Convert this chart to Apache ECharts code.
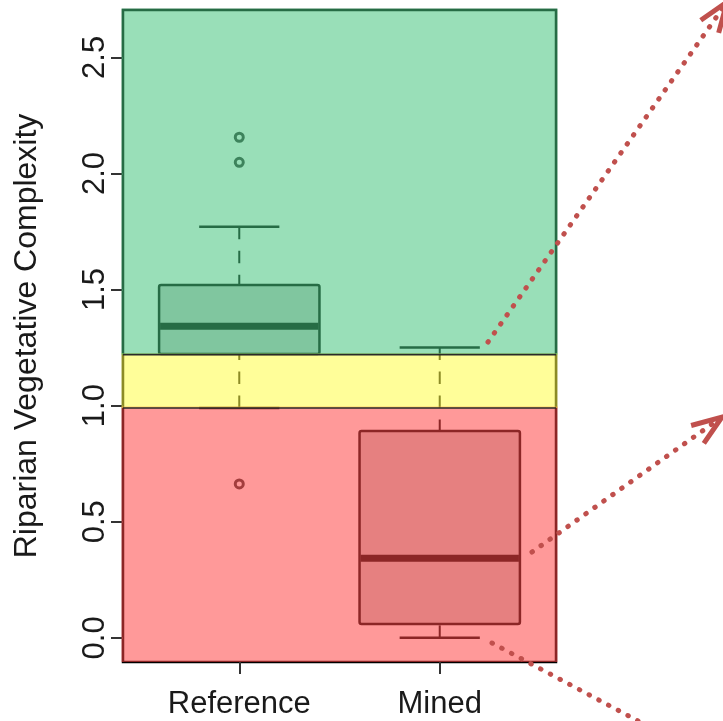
<!DOCTYPE html>
<html><head><meta charset="utf-8">
<script src="https://cdn.jsdelivr.net/npm/echarts@6/dist/echarts.min.js"></script>
<style>html,body{margin:0;padding:0;background:#fff}#c{width:723px;height:721px}</style>
</head><body><div id="c"></div>
<script>
// ---- data ----
const categories = ['Reference', 'Mined'];
const whiskerLow  = [0.990, 0.000];
const quartile1   = [1.223, 0.060];
const medians     = [1.342, 0.343];
const quartile3   = [1.520, 0.891];
const whiskerHigh = [1.770, 1.251];
const outlierGroup  = [0, 0, 0];
const outlierValues = [2.156, 2.048, 0.663];
const yTicks = [0, 0.5, 1.0, 1.5, 2.0, 2.5];
const bandLow  = [-0.104, 0.99, 1.22];
const bandHigh = [0.99, 1.22, 2.704];
const bandBreaks = [0.99, 1.22];

// ---- styling ----
const X_MIN = 0.42, X_MAX = 2.58, Y_MIN = -0.104, Y_MAX = 2.704;
const BOX_W = 0.8, CAP_W = 0.4;
const bandColors = ['rgba(255,69,69,0.55)', 'rgba(255,253,69,0.55)', 'rgba(69,196,125,0.55)'];
const FONT = 'Liberation Sans, Arial, sans-serif';
const TXT = '#1a1a1a';
const arrowColor = '#c0504d';

const chart = echarts.init(document.getElementById('c'), null, {renderer: 'canvas'});

function renderBox(params, api) {
  const x = api.value(0);
  const lo = api.value(1), b1 = api.value(2), md = api.value(3), b3 = api.value(4), hi = api.value(5);
  const p = (xx, yy) => api.coord([xx, yy]);
  const xl = p(x - BOX_W / 2, 0)[0], xr = p(x + BOX_W / 2, 0)[0];
  const cl = p(x - CAP_W / 2, 0)[0], cr = p(x + CAP_W / 2, 0)[0];
  const xc = p(x, 0)[0];
  const ylo = p(x, lo)[1], y1 = p(x, b1)[1], ymd = p(x, md)[1], y3 = p(x, b3)[1], yhi = p(x, hi)[1];
  const dash = {stroke: '#000', lineWidth: 2, lineDash: [12.5, 11.5], fill: null};
  const solid = {stroke: '#000', lineWidth: 2.5, fill: null};
  return {type: 'group', children: [
    {type: 'line', shape: {x1: xc, y1: ylo, x2: xc, y2: y1}, style: dash},
    {type: 'line', shape: {x1: xc, y1: yhi, x2: xc, y2: y3}, style: dash},
    {type: 'line', shape: {x1: cl, y1: ylo, x2: cr, y2: ylo}, style: solid},
    {type: 'line', shape: {x1: cl, y1: yhi, x2: cr, y2: yhi}, style: solid},
    {type: 'rect', shape: {x: xl, y: y3, width: xr - xl, height: y1 - y3, r: 2},
      style: {fill: '#c8c8c8', stroke: '#000', lineWidth: 2.5}},
    {type: 'line', shape: {x1: xl + 1, y1: ymd, x2: xr - 1, y2: ymd}, style: {stroke: '#000', lineWidth: 7}}
  ]};
}

function renderBand(params, api) {
  const lo = api.value(0), hi = api.value(1), idx = api.value(2);
  const a = api.coord([X_MIN, hi]), b = api.coord([X_MAX, lo]);
  return {type: 'rect', shape: {x: a[0] - 1.5, y: a[1] - 1.5, width: b[0] - a[0] + 3, height: b[1] - a[1] + (idx === 0 ? 1.5 : 1.5)},
    style: {fill: bandColors[idx]}};
}

function renderBreak(params, api) {
  const v = api.value(0);
  const a = api.coord([X_MIN, v]), b = api.coord([X_MAX, v]);
  return {type: 'line', shape: {x1: a[0], y1: a[1], x2: b[0], y2: b[1]},
    style: {stroke: '#2a2a2a', lineWidth: 1.6}};
}

const boxData = categories.map((c, i) => [i + 1, whiskerLow[i], quartile1[i], medians[i], quartile3[i], whiskerHigh[i]]);
const outlierData = outlierValues.map((v, i) => [outlierGroup[i] + 1, v]);
const bandData = bandLow.map((l, i) => [l, bandHigh[i], i]);

// annotation arrows (pixel geometry)
const arrows = [
  {from: [488, 342], to: [727, 2], head: true},
  {from: [532, 552], to: [722, 417], head: true},
  {from: [492, 643], to: [700, 754], head: false}
];
const graphics = [];
arrows.forEach(a => {
  const dx = a.to[0] - a.from[0], dy = a.to[1] - a.from[1];
  const L = Math.hypot(dx, dy), ux = dx / L, uy = dy / L;
  const endShaft = a.head ? [a.to[0] - ux * 6, a.to[1] - uy * 6] : a.to;
  graphics.push({type: 'line', z: 100, silent: true,
    shape: {x1: a.from[0], y1: a.from[1], x2: endShaft[0], y2: endShaft[1]},
    style: {stroke: arrowColor, lineWidth: 5, lineDash: [0.5, 10.5], lineCap: 'round'}});
  if (a.head) {
    const ang = 20 * Math.PI / 180, len = 32;
    const bx = -ux, by = -uy;
    const r1 = [a.to[0] + len * (bx * Math.cos(ang) - by * Math.sin(ang)), a.to[1] + len * (bx * Math.sin(ang) + by * Math.cos(ang))];
    const r2 = [a.to[0] + len * (bx * Math.cos(-ang) - by * Math.sin(-ang)), a.to[1] + len * (bx * Math.sin(-ang) + by * Math.cos(-ang))];
    graphics.push({type: 'polyline', z: 100, silent: true,
      shape: {points: [r1, a.to, r2]},
      style: {stroke: arrowColor, lineWidth: 5, fill: null, lineJoin: 'miter'}});
  }
});

chart.setOption({
  animation: false,
  backgroundColor: '#fff',
  grid: {left: 123, top: 10, width: 433, height: 652, show: true, borderColor: '#000', borderWidth: 2.5, backgroundColor: '#fff'},
  xAxis: {
    type: 'value', min: X_MIN, max: X_MAX,
    axisLine: {show: false, onZero: false},
    splitLine: {show: false},
    axisTick: {show: true, length: 12, customValues: [1, 2], lineStyle: {color: '#333', width: 2}},
    axisLabel: {customValues: [1, 2], formatter: v => categories[Math.round(v) - 1], margin: 27,
      fontSize: 31, fontFamily: FONT, color: TXT}
  },
  yAxis: {
    type: 'value', min: Y_MIN, max: Y_MAX,
    name: 'Riparian Vegetative Complexity', nameLocation: 'middle', nameRotate: 90, nameGap: 80,
    nameTextStyle: {fontSize: 32, fontFamily: FONT, color: TXT},
    axisLine: {show: false, onZero: false},
    splitLine: {show: false},
    axisTick: {show: true, length: 12, customValues: yTicks, lineStyle: {color: '#333', width: 2}},
    axisLabel: {customValues: yTicks, formatter: v => v.toFixed(1), rotate: 90, margin: 12,
      fontSize: 31, fontFamily: FONT, color: TXT}
  },
  series: [
    {type: 'custom', z: 2, renderItem: renderBox, data: boxData, encode: {x: 0, y: [1, 2, 3, 4, 5]}, silent: true},
    {type: 'scatter', z: 3, data: outlierData, symbol: 'circle', symbolSize: 8,
      itemStyle: {color: '#ffffff', borderColor: '#000', borderWidth: 3}, silent: true},
    {type: 'custom', z: 10, renderItem: renderBand, data: bandData, encode: {y: [0, 1]}, silent: true},
    {type: 'custom', z: 11, renderItem: renderBreak, data: bandBreaks.map(v => [v]), encode: {y: 0}, silent: true}
  ],
  graphic: graphics
});
</script>
</body></html>
